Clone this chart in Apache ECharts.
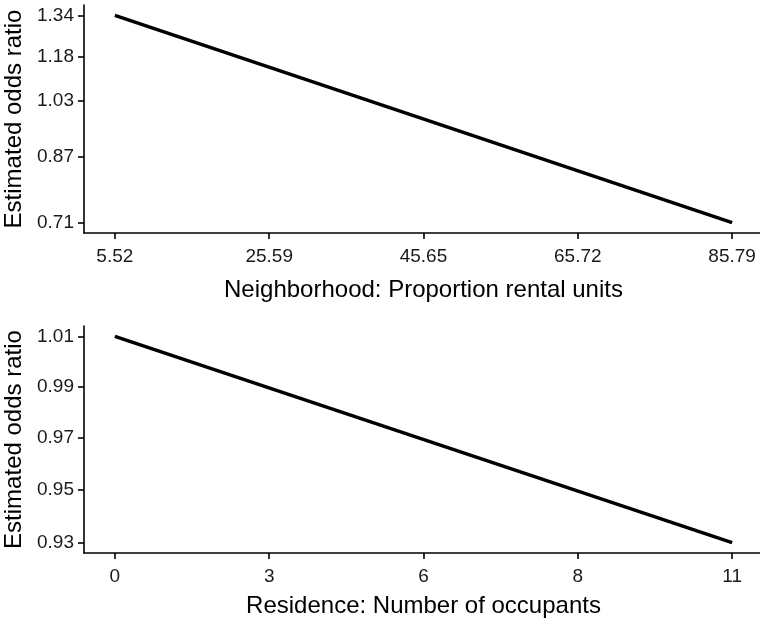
<!DOCTYPE html>
<html>
<head>
<meta charset="utf-8">
<script src="https://cdn.jsdelivr.net/npm/echarts@6/dist/echarts.min.js"></script>
<style>html,body{margin:0;padding:0;background:#fff;}#c{width:760px;height:620px;}</style>
</head>
<body>
<div id="c"></div>
<script>
// Panel 1: Neighborhood proportion rental units
const xTicks1 = [5.52, 25.59, 45.65, 65.72, 85.79];
const yTicks1 = [0.71, 0.87, 1.03, 1.18, 1.34];
const xVals1 = [5.52, 85.79];
const orVals1 = [1.34, 0.71];
// Panel 2: Residence number of occupants
const xTicks2 = [0, 2.75, 5.5, 8.25, 11];
const xTickLabels2 = ['0', '3', '6', '8', '11'];
const yTicks2 = [0.93, 0.95, 0.97, 0.99, 1.01];
const xVals2 = [0, 11];
const orVals2 = [1.01, 0.93];

const FONT = 'Liberation Sans, Arial, sans-serif';
const lg = Math.log;
function expand(a, b) { const r = b - a; return [a - 0.05 * r, b + 0.05 * r]; }

function nearestLabel(v, ticks, labels) {
  let best = 0, bd = Infinity;
  ticks.forEach((t, i) => { const d = Math.abs(t - v); if (d < bd) { bd = d; best = i; } });
  return labels[best];
}

function xAxis(grid, ticks, labels, name, minmax, nameGap) {
  return {
    type: 'value', gridIndex: grid, min: minmax[0], max: minmax[1],
    name: name, nameLocation: 'middle', nameGap: nameGap,
    nameTextStyle: { fontFamily: FONT, fontSize: 24, color: '#000' },
    axisLine: { show: true, onZero: false, lineStyle: { color: '#000', width: 1.6 } },
    axisTick: { show: true, inside: false, length: 6, customValues: ticks, lineStyle: { color: '#000', width: 1.6 } },
    axisLabel: { show: true, margin: 14, fontFamily: FONT, fontSize: 19, color: '#1a1a1a', customValues: ticks,
      formatter: v => nearestLabel(v, ticks, labels) },
    splitLine: { show: false }
  };
}
function yAxis(grid, ticks, minmax, nameGap) {
  const lt = ticks.map(lg);
  const labels = ticks.map(t => t.toFixed(2));
  return {
    type: 'value', gridIndex: grid, min: minmax[0], max: minmax[1],
    name: 'Estimated odds ratio', nameLocation: 'middle', nameGap: nameGap,
    nameTextStyle: { fontFamily: FONT, fontSize: 24, color: '#000' },
    axisLine: { show: true, onZero: false, lineStyle: { color: '#000', width: 1.6 } },
    axisTick: { show: true, inside: false, length: 6, customValues: lt, lineStyle: { color: '#000', width: 1.6 } },
    axisLabel: { show: true, margin: 10, fontFamily: FONT, fontSize: 19, color: '#1a1a1a', customValues: lt,
      formatter: v => nearestLabel(v, lt, labels) },
    splitLine: { show: false }
  };
}

const x1 = expand(Math.min(...xVals1), Math.max(...xVals1));
const y1 = expand(lg(Math.min(...yTicks1)), lg(Math.max(...yTicks1)));
const x2 = expand(Math.min(...xVals2), Math.max(...xVals2));
const y2 = expand(lg(Math.min(...yTicks2)), lg(Math.max(...yTicks2)));

const chart = echarts.init(document.getElementById('c'), null, { renderer: 'canvas' });
chart.setOption({
  animation: false,
  backgroundColor: '#fff',
  grid: [
    { left: 84, right: -3, top: 5, height: 228, containLabel: false, outerBoundsMode: 'none' },
    { left: 84, right: -3, top: 326, height: 227, containLabel: false, outerBoundsMode: 'none' }
  ],
  xAxis: [
    xAxis(0, xTicks1, xTicks1.map(t => t.toFixed(2)), 'Neighborhood: Proportion rental units', x1, 45),
    xAxis(1, xTicks2, xTickLabels2, 'Residence: Number of occupants', x2, 41)
  ],
  yAxis: [
    yAxis(0, yTicks1, y1, 56),
    yAxis(1, yTicks2, y2, 56)
  ],
  series: [
    { type: 'line', xAxisIndex: 0, yAxisIndex: 0, showSymbol: false, symbol: 'none',
      lineStyle: { color: '#000', width: 3.5 },
      data: xVals1.map((x, i) => [x, lg(orVals1[i])]) },
    { type: 'line', xAxisIndex: 1, yAxisIndex: 1, showSymbol: false, symbol: 'none',
      lineStyle: { color: '#000', width: 3.5 },
      data: xVals2.map((x, i) => [x, lg(orVals2[i])]) }
  ]
});
</script>
</body>
</html>
